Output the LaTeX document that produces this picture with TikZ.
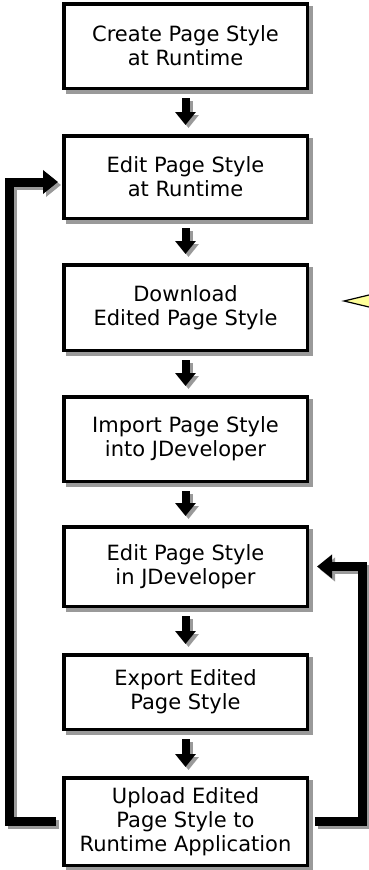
\documentclass[tikz,border=0pt]{standalone}
\usepackage{fontspec}
\setmainfont{DejaVu Sans}
\usetikzlibrary{arrows.meta,backgrounds}
\definecolor{shadowgray}{HTML}{9A9A9A}
\definecolor{tipyellow}{HTML}{FFFF99}
\begin{document}
\begin{tikzpicture}[x=1pt,y=-1pt,
  stepbox/.style={draw=black, fill=white, line width=3.5pt, minimum width=243.5pt,
    inner sep=0pt, align=center, text=black, font=\fontsize{21}{24}\selectfont},
  downarr/.style={line width=8pt, -{Triangle[width=20pt,length=13pt]},
    shorten <=8pt, shorten >=9pt},
  loopline/.style={line width=9pt, line join=miter,
    -{Triangle[width=23pt,length=15pt]}},
  shadowed/.style={shadowgray, transform canvas={xshift=3pt,yshift=-3pt}}]
\useasboundingbox (0,0) rectangle (368,870);

\node[stepbox, minimum height=84.5pt] (b1) at (185.5,46) {Create Page Style\\at Runtime};
\node[stepbox, minimum height=82.5pt] (b2) at (185.5,177) {Edit Page Style\\at Runtime};
\node[stepbox, minimum height=85.5pt] (b3) at (185.5,307.5) {Download\\Edited Page Style};
\node[stepbox, minimum height=84.5pt] (b4) at (185.5,439) {Import Page Style\\into JDeveloper};
\node[stepbox, minimum height=79.5pt] (b5) at (185.5,566.5) {Edit Page Style\\in JDeveloper};
\node[stepbox, minimum height=74.5pt] (b6) at (185.5,692) {Export Edited\\Page Style};
\node[stepbox, minimum height=87.5pt] (b7) at (185.5,821.5) {Upload Edited\\Page Style to\\Runtime Application};

\coordinate (lx) at (9.5,0);
\coordinate (rx) at (362.5,0);
\coordinate (t2) at ([yshift=-5pt]b2.west);

\begin{scope}[on background layer]
  % box shadows
  \foreach \n in {b1,b2,b3,b4,b5,b6,b7}
    \fill[shadowgray] ([shift={(4pt,-4pt)}]\n.north west) rectangle ([shift={(4pt,-4pt)}]\n.south east);
  % loop shadows
  \draw[loopline, shadowed, shorten <=6pt, shorten >=4pt] (b7.west) -- (b7.west -| lx) -- (t2 -| lx) -- (t2);
  \draw[loopline, shadowed, shorten <=6pt, shorten >=8pt] (b7.east) -- (b7.east -| rx) -- (b5.east -| rx) -- (b5.east);
  % loops
  \draw[loopline, shorten <=6pt, shorten >=4pt] (b7.west) -- (b7.west -| lx) -- (t2 -| lx) -- (t2);
  \draw[loopline, shorten <=6pt, shorten >=8pt] (b7.east) -- (b7.east -| rx) -- (b5.east -| rx) -- (b5.east);
  % down arrow shadows
  \foreach \a/\b in {b1/b2,b2/b3,b3/b4,b4/b5,b5/b6,b6/b7}
    \draw[downarr, shadowed] (\a) -- (\b);
  % down arrows
  \foreach \a/\b in {b1/b2,b2/b3,b3/b4,b4/b5,b5/b6,b6/b7}
    \draw[downarr] (\a) -- (\b);
\end{scope}

% partial yellow pointer at right edge
\filldraw[fill=tipyellow, draw=black, line width=1.2pt, line join=miter] (369,295) -- (344,301) -- (369,307);
\end{tikzpicture}
\end{document}
